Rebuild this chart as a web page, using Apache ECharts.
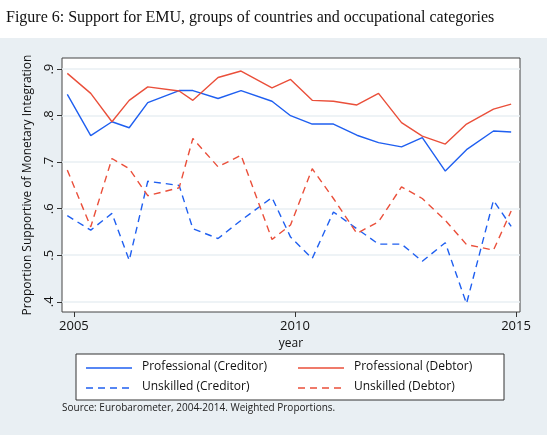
<!DOCTYPE html>
<html>
<head>
<meta charset="utf-8">
<script src="https://cdn.jsdelivr.net/npm/echarts@6/dist/echarts.min.js"></script>
<style>
  body { margin: 0; background: #fff; }
  #chart { width: 547px; height: 435px; }
</style>
</head>
<body>
<div id="chart"></div>
<script>
// Survey waves (fractional years) and the four series
const years = [2004.85, 2005.38, 2005.86, 2006.25, 2006.67, 2007.38, 2007.69, 2008.26, 2008.78, 2009.48, 2009.9,
               2010.39, 2010.87, 2011.40, 2011.89, 2012.41, 2012.88, 2013.40, 2013.88, 2014.49, 2014.89];
const profCreditor = [.846, .757, .787, .774, .828, .854, .854, .837, .854, .831, .800,
                      .782, .782, .758, .742, .733, .753, .681, .727, .767, .765];
const profDebtor = [.891, .848, .787, .833, .862, .853, .833, .882, .896, .860, .878,
                    .833, .831, .823, .848, .785, .756, .739, .782, .814, .825];
const unskCreditor = [.585, .554, .590, .489, .659, .650, .557, .536, .575, .624, .539,
                      .493, .593, .557, .524, .524, .487, .527, .396, .618, .562];
const unskDebtor = [.683, .561, .708, .686, .628, .645, .751, .690, .715, .534, .565,
                    .686, .622, .547, .572, .647, .622, .575, .523, .511, .595];
const seriesNames = ['Professional (Creditor)', 'Professional (Debtor)', 'Unskilled (Creditor)', 'Unskilled (Debtor)'];
const xTicks = [2005, 2010, 2015];
const yTicks = [0.4, 0.5, 0.6, 0.7, 0.8, 0.9];

const BLUE = '#1f5ff0';
const RED = '#ea4f3a';
const styles = [[BLUE, false], [RED, false], [BLUE, true], [RED, true]];
const dash = [7, 5];

const pairs = arr => years.map((y, i) => [y, arr[i]]);

const chart = echarts.init(document.getElementById('chart'));

const mkSeries = (name, data, color, dashed) => ({
    name: name,
    type: 'line',
    data: pairs(data),
    symbol: 'none',
    lineStyle: { color: color, width: 1.4, type: dashed ? dash : 'solid' },
    itemStyle: { color: color }
});

// hand-built legend box (two columns, two rows)
const legendItems = [];
seriesNames.forEach((name, i) => {
    const col = i % 2, row = Math.floor(i / 2);
    const x = 86 + col * 212, y = 368 + row * 20;
    legendItems.push({ type: 'line', z: 2, shape: { x1: x, y1: y, x2: x + 46, y2: y },
        style: { stroke: styles[i][0], lineWidth: 1.4, lineDash: styles[i][1] ? dash : null } });
    legendItems.push({ type: 'text', z: 2, x: x + 56, y: y - 7,
        style: { text: name, font: '12px "Open Sans"', fill: '#111' } });
});

chart.setOption({
    backgroundColor: '#fff',
    animation: false,
    textStyle: { fontFamily: 'Open Sans' },
    graphic: [
        { type: 'rect', z: -10, shape: { x: 0, y: 38, width: 547, height: 397 }, style: { fill: '#e9eff3' } },
        { type: 'rect', z: -9, shape: { x: 62, y: 58, width: 458, height: 254 }, style: { fill: '#fff', stroke: '#444', lineWidth: 1 } },
        { type: 'rect', z: 1, shape: { x: 76, y: 354, width: 428, height: 46 }, style: { fill: '#fff', stroke: '#333', lineWidth: 1 } },
        { type: 'text', x: 6, y: 10, style: { text: 'Figure 6: Support for EMU, groups of countries and occupational categories', font: '16px "Liberation Serif"', fill: '#111' } },
        { type: 'text', x: 62, y: 403, style: { text: 'Source: Eurobarometer, 2004-2014. Weighted Proportions.', font: '10px "Open Sans"', fill: '#222' } }
    ].concat(legendItems),
    grid: { left: 62, top: 58, width: 458, height: 254 },
    xAxis: {
        type: 'value', min: 2004.73, max: 2015.09,
        name: 'year', nameLocation: 'middle', nameGap: 22,
        nameTextStyle: { fontSize: 12, color: '#111' },
        axisLine: { show: false },
        axisTick: { show: true, length: 5, customValues: xTicks, lineStyle: { color: '#333' } },
        axisLabel: { customValues: xTicks, fontSize: 13, color: '#111', margin: 8, formatter: v => String(v) },
        splitLine: { show: false }
    },
    yAxis: {
        type: 'value', min: 0.378, max: 0.924,
        name: 'Proportion Supportive of Monetary Integration', nameLocation: 'middle', nameGap: 28,
        nameTextStyle: { fontSize: 12, color: '#111' },
        axisLine: { show: false },
        axisTick: { show: true, length: 5, customValues: yTicks, lineStyle: { color: '#333' } },
        axisLabel: { customValues: yTicks, rotate: 90, fontSize: 13, color: '#111', margin: 6,
                     formatter: v => String(Math.round(v * 10) / 10).replace(/^0/, '') },
        splitLine: { show: true, customValues: yTicks, lineStyle: { color: '#e9eff3', width: 1.5 } }
    },
    series: seriesNames.map((n, i) =>
        mkSeries(n, [profCreditor, profDebtor, unskCreditor, unskDebtor][i], styles[i][0], styles[i][1]))
});
</script>
</body>
</html>
